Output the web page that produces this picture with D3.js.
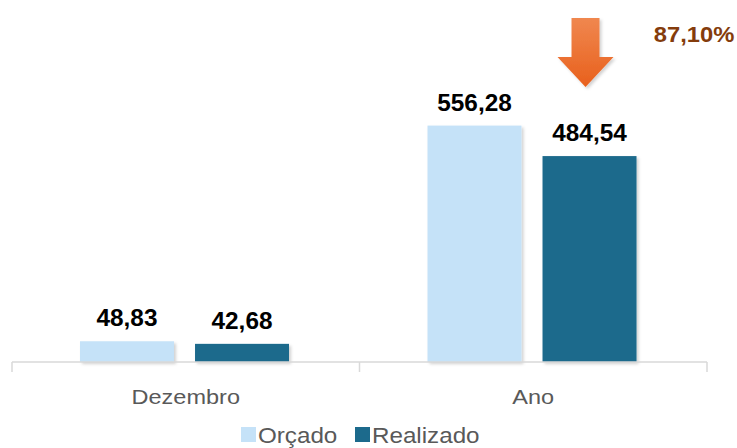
<!DOCTYPE html>
<html>
<head>
<meta charset="utf-8">
<script src="https://cdn.jsdelivr.net/npm/d3@7"></script>
<style>
  body { margin: 0; background: #fff; }
  svg { display: block; font-family: "Liberation Sans", Arial, sans-serif; }
</style>
</head>
<body>
<svg id="chart" width="737" height="448"></svg>
<script>
const categories = ['Dezembro', 'Ano'];
const seriesNames = ['Orçado', 'Realizado'];
const orcado = [48.83, 556.28];
const realizado = [42.68, 484.54];
const valueLabels = [['48,83', '42,68'], ['556,28', '484,54']];
const percentLabel = '87,10%';

const colors = ['#c5e2f8', '#1c6a8c'];

const svg = d3.select('svg#chart');
const baseY = 362;

const x = d3.scaleBand()
  .domain(categories)
  .range([12, 707])
  .paddingInner(0)
  .paddingOuter(0);

const inner = d3.scaleBand()
  .domain(seriesNames)
  .range([80, 289])
  .paddingInner(0.183);

const y = d3.scaleLinear()
  .domain([0, 600])
  .range([baseY, baseY - 255]);

const data = categories.map((c, i) => ({
  cat: c,
  values: [orcado[i], realizado[i]],
  labels: valueLabels[i]
}));

// shadow filter for bars and arrow
const defs = svg.append('defs');
const shadow = defs.append('filter').attr('id', 'shadow')
  .attr('x', '-20%').attr('y', '-20%').attr('width', '150%').attr('height', '150%');
shadow.append('feDropShadow')
  .attr('dx', 2).attr('dy', 2).attr('stdDeviation', 1.5)
  .attr('flood-color', '#000').attr('flood-opacity', 0.18);

const grad = defs.append('linearGradient').attr('id', 'arrowGrad')
  .attr('x1', 0).attr('y1', 0).attr('x2', 0).attr('y2', 1);
grad.append('stop').attr('offset', '0%').attr('stop-color', '#f0874f');
grad.append('stop').attr('offset', '100%').attr('stop-color', '#e8601c');

// stretch text horizontally around its anchor point
function stretch(cx, s) {
  return `translate(${cx} 0) scale(${s} 1) translate(${-cx} 0)`;
}

// bars
const groups = svg.selectAll('g.cat').data(data)
  .enter()
  .append('g')
  .attr('class', 'cat')
  .attr('transform', (d) => `translate(${x(d.cat) - 12} 0)`);

groups.each(function(d) {
  const g = d3.select(this);
  d.values.forEach((v, j) => {
    const bx = inner(seriesNames[j]);
    const cx = bx + inner.bandwidth() / 2;
    g.append('rect')
      .attr('x', bx)
      .attr('y', y(v))
      .attr('width', inner.bandwidth())
      .attr('height', baseY - y(v))
      .attr('fill', colors[j])
      .attr('filter', 'url(#shadow)');
    g.append('text')
      .attr('x', cx)
      .attr('y', y(v) - 15)
      .attr('text-anchor', 'middle')
      .attr('font-size', '23px')
      .attr('font-weight', 'bold')
      .attr('fill', '#000')
      .attr('transform', stretch(cx, 1.06))
      .text(d.labels[j]);
  });
});

// axis
const axis = svg.append('g').attr('transform', `translate(0 ${baseY})`);
axis.append('line')
  .attr('x1', 12).attr('x2', 707)
  .attr('stroke', '#d9d9d9').attr('stroke-width', 1.5);
[12, x('Ano'), 707].forEach((tx) => {
  axis.append('line')
    .attr('x1', tx).attr('x2', tx).attr('y1', 0).attr('y2', 10)
    .attr('stroke', '#d9d9d9').attr('stroke-width', 1.5);
});
categories.forEach((c) => {
  const cx = x(c) + x.bandwidth() / 2;
  axis.append('text')
    .attr('x', cx)
    .attr('y', 42)
    .attr('text-anchor', 'middle')
    .attr('font-size', '21px')
    .attr('fill', '#595959')
    .attr('transform', stretch(cx, 1.12))
    .text(c);
});

// down arrow
const ax = x('Ano') - 12 + inner('Realizado') + inner.bandwidth() / 2 - 4;
const arrow = d3.path();
arrow.moveTo(ax - 14, 18);
arrow.lineTo(ax + 14, 18);
arrow.lineTo(ax + 14, 57);
arrow.lineTo(ax + 28, 57);
arrow.lineTo(ax, 87);
arrow.lineTo(ax - 28, 57);
arrow.lineTo(ax - 14, 57);
arrow.closePath();
svg.append('path')
  .attr('d', arrow.toString())
  .attr('fill', 'url(#arrowGrad)')
  .attr('filter', 'url(#shadow)');

svg.append('text')
  .attr('x', 694)
  .attr('y', 42)
  .attr('text-anchor', 'middle')
  .attr('font-size', '22px')
  .attr('font-weight', 'bold')
  .attr('fill', '#843c0c')
  .attr('transform', stretch(694, 1.08))
  .text(percentLabel);

// legend
const legend = svg.append('g').attr('transform', 'translate(241 427)');
const legendX = [0, 114];
seriesNames.forEach((s, j) => {
  legend.append('rect')
    .attr('x', legendX[j]).attr('y', 0)
    .attr('width', 15).attr('height', 15)
    .attr('fill', colors[j]);
  legend.append('text')
    .attr('x', legendX[j] + 17)
    .attr('y', 16)
    .attr('font-size', '22px')
    .attr('fill', '#595959')
    .attr('transform', stretch(legendX[j] + 17, 1.1))
    .text(s);
});
</script>
</body>
</html>
